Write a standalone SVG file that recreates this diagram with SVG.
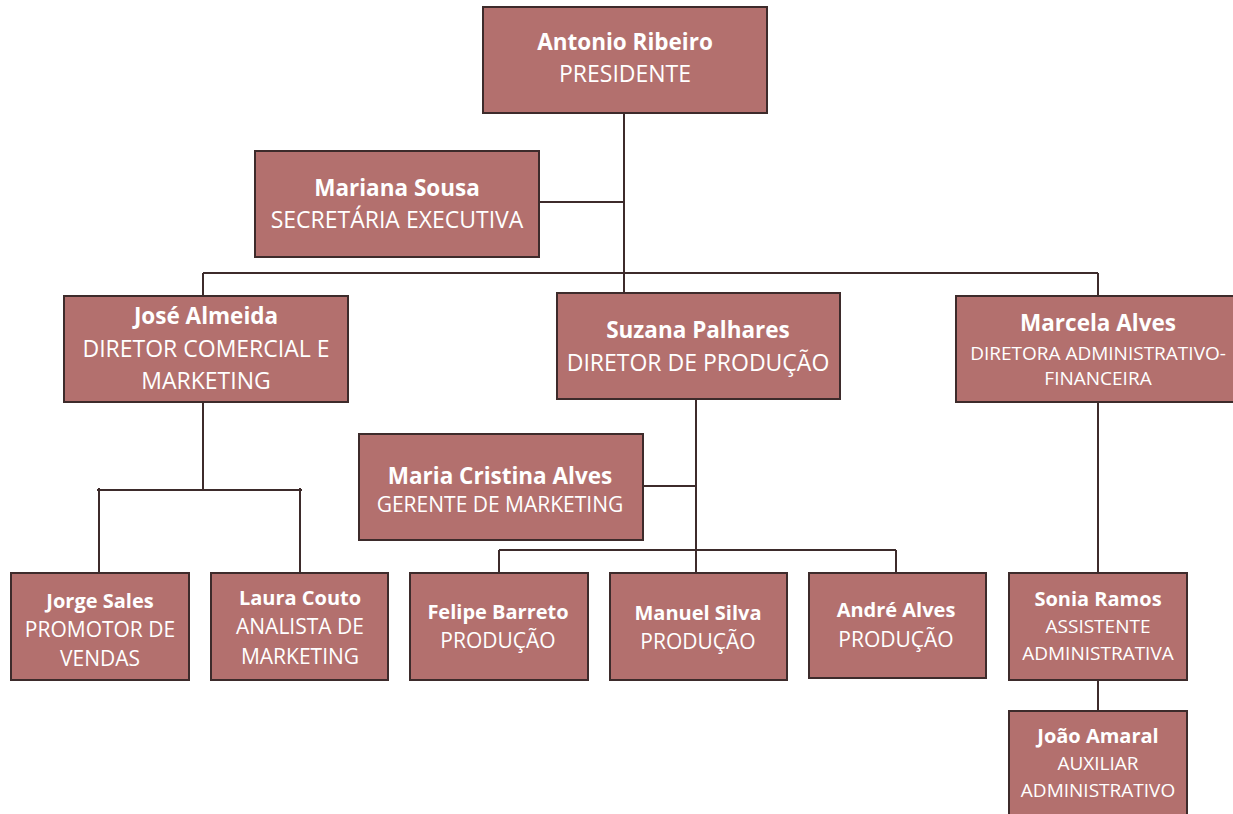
<svg xmlns="http://www.w3.org/2000/svg" width="1233" height="814" viewBox="0 0 1233 814">
<style>
.box{fill:#b3706e;stroke:#3d2b2b;stroke-width:2}
.n{font-family:"Open Sans","Liberation Sans",sans-serif;font-weight:bold;fill:#fff;text-anchor:middle;font-size:22.5px}
.t{font-family:"Open Sans","Liberation Sans",sans-serif;fill:#fff;text-anchor:middle;font-size:23px}
.n2{font-size:20px}
.t2{font-size:21px}
.s{font-size:19px}
.c{fill:none;stroke:#3d2b2b;stroke-width:2}
</style>
<rect width="1233" height="814" fill="#fff"/>
<g id="connectors" class="c">
<path d="M624 113V293"/>
<path d="M539 202H624"/>
<path d="M203 273H1098"/>
<path d="M203 273V296"/>
<path d="M1098 273V296"/>
<path d="M203 402V490"/>
<path d="M97 490H302"/>
<path d="M99 488V573"/>
<path d="M300 488V573"/>
<path d="M696 399V573"/>
<path d="M643 486H696"/>
<path d="M499 550H896"/>
<path d="M499 550V573"/>
<path d="M896 550V573"/>
<path d="M1098 402V573"/>
<path d="M1098 680V711"/>
</g>
<g id="antonio"><rect class="box" x="483" y="7" width="284" height="106"/><text class="n" x="625" y="50">Antonio Ribeiro</text><text class="t" x="625" y="82">PRESIDENTE</text></g>
<g id="mariana"><rect class="box" x="255" y="151" width="284" height="106"/><text class="n" x="397" y="196">Mariana Sousa</text><text class="t" x="397" y="228">SECRETÁRIA EXECUTIVA</text></g>
<g id="jose"><rect class="box" x="64" y="296" width="284" height="106"/><text class="n" x="206" y="324">José Almeida</text><text class="t" x="206" y="357">DIRETOR COMERCIAL E</text><text class="t" x="206" y="389">MARKETING</text></g>
<g id="suzana"><rect class="box" x="557" y="293" width="283" height="106"/><text class="n" x="698" y="338">Suzana Palhares</text><text class="t" x="698" y="371">DIRETOR DE PRODUÇÃO</text></g>
<g id="marcela"><rect class="box" x="956" y="296" width="280" height="106"/><text class="n" x="1098" y="331">Marcela Alves</text><text class="t s" x="1098" y="360">DIRETORA ADMINISTRATIVO-</text><text class="t s" x="1098" y="385">FINANCEIRA</text></g>
<g id="maria"><rect class="box" x="359" y="434" width="284" height="106"/><text class="n" x="500" y="484">Maria Cristina Alves</text><text class="t t2" x="500" y="512">GERENTE DE MARKETING</text></g>
<g id="jorge"><rect class="box" x="11" y="573" width="178" height="107"/><text class="n n2" x="100" y="608">Jorge Sales</text><text class="t t2" x="100" y="637">PROMOTOR DE</text><text class="t t2" x="100" y="666">VENDAS</text></g>
<g id="laura"><rect class="box" x="211" y="573" width="177" height="107"/><text class="n n2" x="300" y="605">Laura Couto</text><text class="t t2" x="300" y="634">ANALISTA DE</text><text class="t t2" x="300" y="664">MARKETING</text></g>
<g id="felipe"><rect class="box" x="410" y="573" width="178" height="107"/><text class="n n2" x="498" y="619">Felipe Barreto</text><text class="t t2" x="498" y="648">PRODUÇÃO</text></g>
<g id="manuel"><rect class="box" x="610" y="573" width="177" height="107"/><text class="n n2" x="698" y="620">Manuel Silva</text><text class="t t2" x="698" y="649">PRODUÇÃO</text></g>
<g id="andre"><rect class="box" x="809" y="573" width="177" height="105"/><text class="n n2" x="896" y="617">André Alves</text><text class="t t2" x="896" y="647">PRODUÇÃO</text></g>
<g id="sonia"><rect class="box" x="1009" y="573" width="178" height="107"/><text class="n n2" x="1098" y="606">Sonia Ramos</text><text class="t s" x="1098" y="633">ASSISTENTE</text><text class="t s" x="1098" y="660">ADMINISTRATIVA</text></g>
<g id="joao"><rect class="box" x="1009" y="711" width="178" height="110"/><text class="n n2" x="1098" y="743">João Amaral</text><text class="t s" x="1098" y="770">AUXILIAR</text><text class="t s" x="1098" y="797">ADMINISTRATIVO</text></g>
</svg>
